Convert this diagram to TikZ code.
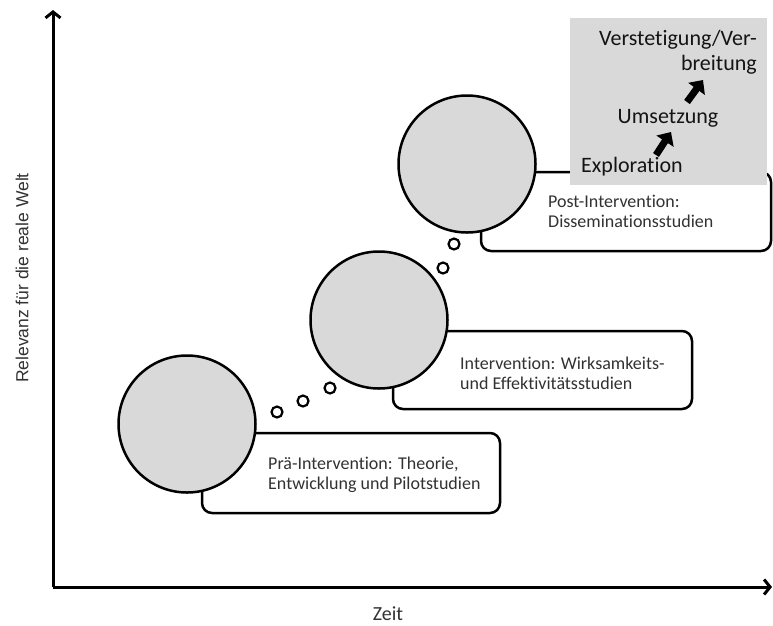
\documentclass[tikz,border=0pt]{standalone}
\usepackage{fontspec}
\setmainfont{Carlito}[Ligatures=NoCommon]
\newfontfamily\axisfont{Liberation Sans}
\usetikzlibrary{arrows.meta}
\definecolor{bubblegray}{RGB}{217,217,217}
\definecolor{textgray}{RGB}{50,50,50}
\tikzset{
  phase/.style={circle, draw=black, line width=2.5pt, fill=bubblegray, minimum size=137pt, inner sep=0pt},
  dot/.style={circle, draw=black, line width=2.2pt, fill=white, minimum size=11pt, inner sep=0pt},
  labelbox/.style={draw=black, line width=2.5pt, rounded corners=10pt, fill=white},
  boxtext/.style={anchor=west, align=left, font=\fontsize{18}{20}\selectfont, text=textgray, inner sep=0pt},
  stagetext/.style={font=\fontsize{22}{25}\selectfont, text=black!92, inner sep=0pt},
  axis/.style={line width=3pt, -{Straight Barb[length=6pt,width=15pt,line width=3pt]}},
  stagearrow/.style={line width=7pt, -{Triangle[length=11pt,width=20pt]}},
  axislabel/.style={font=\axisfont\fontsize{17.5}{20}\selectfont, text=textgray, inner sep=0pt}
}
\begin{document}
\begin{tikzpicture}[x=1pt, y=-1pt]
\useasboundingbox (0,0) rectangle (773,625);

% label boxes behind the phase circles
\draw[labelbox] (202,433) rectangle (500,513);
\draw[labelbox] (393,331) rectangle (692,409);
\draw[labelbox] (481,172) rectangle (771,251);

% phase circles
\node[phase] (c1) at (187,424) {};
\node[phase] (c2) at (379,320) {};
\node[phase] (c3) at (467,164) {};

% thought bubbles between the phases
\node[dot] (s1) at (277,412) {};
\node[dot] (s2) at (303,401) {};
\node[dot] (s3) at (330,388) {};
\node[dot] (s4) at (443,268) {};
\node[dot] (s5) at (454,244) {};

% box texts
\node[boxtext] (t1) at (268,475) {Prä-Intervention: Theorie,\\Entwicklung und Pilotstudien};
\node[boxtext] (t2) at (460,373) {Intervention: Wirksamkeits-\\und Effektivitätsstudien};
\node[boxtext] (t3) at (548,211) {Post-Intervention:\\Disseminationsstudien};

% implementation stages panel
\fill[bubblegray] (570,18) rectangle (767,185);
\node[stagetext, anchor=east, align=right] (ver) at (757,52) {Verstetigung/Ver-\\breitung};
\node[stagetext] (ums) at (668,118) {Umsetzung};
\node[stagetext] (exp) at (632,167) {Exploration};
\coordinate (a1s) at (656,155);
\coordinate (a1e) at (671,132);
\coordinate (a2s) at (687,102);
\coordinate (a2e) at (703,80);
\draw[stagearrow] (a1s) -- (a1e);
\draw[stagearrow] (a2s) -- (a2e);

% axes
\coordinate (origin) at (53,587);
\coordinate (ytip) at (53,10);
\coordinate (xtip) at (772,587);
\draw[axis] (origin) -- (ytip);
\draw[axis] (origin) -- (xtip);
\node[axislabel, rotate=90] (ylab) at (22,278) {Relevanz für die reale Welt};
\node[font=\fontsize{20}{22}\selectfont, text=textgray, inner sep=0pt] (xlab) at (388,614) {Zeit};
\end{tikzpicture}
\end{document}
